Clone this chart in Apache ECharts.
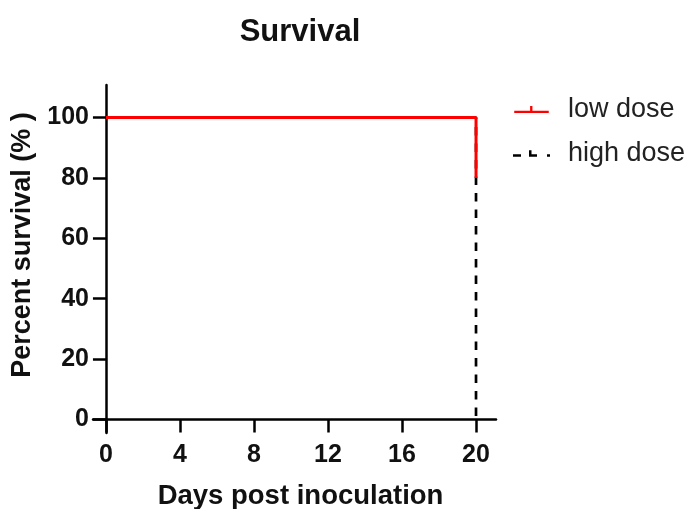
<!DOCTYPE html>
<html>
<head>
<meta charset="utf-8">
<script src="https://cdn.jsdelivr.net/npm/echarts@6/dist/echarts.min.js"></script>
<style>html,body{margin:0;padding:0;background:#fff;}#c{width:694px;height:509px;}</style>
</head>
<body>
<div id="c"></div>
<script>
const titleText = 'Survival';
const seriesNames = ['low dose', 'high dose'];
const lowDose = [[0, 100], [20, 100], [20, 80]];
const highDose = [[0, 100], [20, 100], [20, 0]];
const xTicks = [0, 4, 8, 12, 16, 20];
const yTicks = [0, 20, 40, 60, 80, 100];
const xName = 'Days post inoculation';
const yName = 'Percent survival (% )';

const FONT = '"Liberation Sans", Arial, sans-serif';
const chart = echarts.init(document.getElementById('c'));
chart.setOption({
  animation: false,
  backgroundColor: '#fff',
  title: {
    text: titleText, left: 300, top: 17, textAlign: 'center', padding: 0,
    textStyle: { fontFamily: FONT, fontSize: 31, fontWeight: 'bold', color: '#111' }
  },
  legend: {
    orient: 'vertical', left: 513, top: 96, itemGap: 17, padding: 0,
    itemWidth: 37, itemHeight: 7,
    data: [
      { name: seriesNames[0], icon: 'path://M0,5h37v2.5h-37z M17,0h2.5v5h-2.5z' },
      { name: seriesNames[1], icon: 'path://M0,5h8v2.5h-8z M16,5h8v2.5h-8z M16,1h2.5v4h-2.5z M34,5h3v2.5h-3z' }
    ],
    textStyle: { fontFamily: FONT, fontSize: 27, color: '#222', lineHeight: 27, padding: [0, 0, 0, 13] }
  },
  grid: { left: 93, right: 198, top: 85, bottom: 76, containLabel: false, outerBoundsMode: 'none' },
  xAxis: {
    type: 'value', min: -0.7, max: 21.08,
    splitLine: { show: false },
    axisLine: { onZero: true, lineStyle: { color: '#000', width: 2.5 } },
    axisTick: { show: true, customValues: xTicks, length: 13, lineStyle: { color: '#000', width: 2.5 } },
    axisLabel: { customValues: xTicks, margin: 10, fontFamily: FONT, fontSize: 25, fontWeight: 'bold', color: '#111' },
    name: xName, nameLocation: 'middle', nameGap: 49,
    nameTextStyle: { fontFamily: FONT, fontSize: 27.5, fontWeight: 'bold', color: '#111', padding: [0, 0, 0, 12] }
  },
  yAxis: {
    type: 'value', min: -4.5, max: 110.8,
    splitLine: { show: false },
    axisLine: { onZero: true, lineStyle: { color: '#000', width: 2.5 } },
    axisTick: { show: true, customValues: yTicks, length: 13, lineStyle: { color: '#000', width: 2.5 } },
    axisLabel: { customValues: yTicks, margin: 4, fontFamily: FONT, fontSize: 25, fontWeight: 'bold', color: '#111' },
    name: yName, nameLocation: 'middle', nameGap: 56,
    nameTextStyle: { fontFamily: FONT, fontSize: 27, fontWeight: 'bold', color: '#111', padding: [0, 0, 0, 28] }
  },
  series: [
    {
      name: seriesNames[1], type: 'line', data: highDose, symbol: 'none', z: 2,
      itemStyle: { color: '#000' },
      lineStyle: { color: '#000', width: 2.7, type: [8.5, 8] }
    },
    {
      name: seriesNames[0], type: 'line', data: lowDose, symbol: 'none', z: 3,
      itemStyle: { color: '#ff0000' },
      lineStyle: { color: '#ff0000', width: 3 }
    }
  ]
});
</script>
</body>
</html>
